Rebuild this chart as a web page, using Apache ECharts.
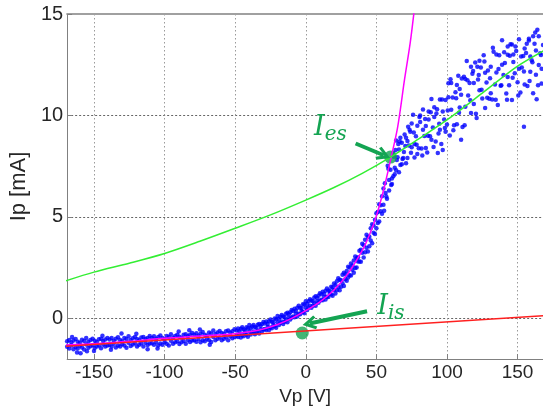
<!DOCTYPE html>
<html>
<head>
<meta charset="utf-8">
<script src="https://cdn.jsdelivr.net/npm/echarts@6/dist/echarts.min.js"></script>
<style>
  html, body { margin: 0; padding: 0; background: #fff; }
  #chart { width: 543px; height: 412px; }
</style>
</head>
<body>
<div id="chart"></div>
<script>
// probe data, ion side (Vp < -50)
var ionBranch = [
  [-169,-1.13],[-169,-1.40],[-167.5,-1.06],[-167.5,-1.48],[-166,-1.19],[-166,-1.34],[-164.5,-1.09],[-164.5,-1.52],
  [-163,-1.01],[-163,-1.41],[-161.5,-1.15],[-161.5,-1.48],[-160,-1.20],[-160,-1.35],[-158.5,-1.05],[-158.5,-1.43],
  [-157,-1.11],[-157,-1.53],[-155.5,-0.97],[-155.5,-1.29],[-154,-1.15],[-154,-1.45],[-152.5,-1.06],[-152.5,-1.37],
  [-151,-1.00],[-151,-1.32],[-149.5,-1.10],[-149.5,-1.46],[-148,-1.16],[-148,-1.39],[-146.5,-1.03],[-146.5,-1.33],
  [-145,-1.00],[-145,-1.47],[-143.5,-1.11],[-143.5,-1.29],[-142,-1.04],[-142,-1.39],[-140.5,-0.96],[-140.5,-1.33],
  [-139,-1.04],[-139,-1.31],[-137.5,-0.97],[-137.5,-1.39],[-136,-1.10],[-136,-1.25],[-134.5,-1.00],[-134.5,-1.43],
  [-133,-0.93],[-133,-1.33],[-131.5,-1.06],[-131.5,-1.39],[-130,-1.12],[-130,-1.27],[-128.5,-0.96],[-128.5,-1.34],
  [-127,-1.02],[-127,-1.44],[-125.5,-0.88],[-125.5,-1.20],[-124,-1.06],[-124,-1.36],[-122.5,-0.98],[-122.5,-1.29],
  [-121,-0.91],[-121,-1.23],[-119.5,-1.02],[-119.5,-1.38],[-118,-1.07],[-118,-1.30],[-116.5,-0.94],[-116.5,-1.24],
  [-115,-0.91],[-115,-1.38],[-113.5,-1.02],[-113.5,-1.20],[-112,-0.96],[-112,-1.31],[-110.5,-0.87],[-110.5,-1.24],
  [-109,-0.96],[-109,-1.23],[-107.5,-0.88],[-107.5,-1.30],[-106,-1.02],[-106,-1.17],[-104.5,-0.91],[-104.5,-1.34],
  [-103,-0.84],[-103,-1.24],[-101.5,-0.97],[-101.5,-1.30],[-100,-1.03],[-100,-1.18],
  [-98.5,-0.87],[-98.5,-1.25],[-97,-0.92],[-97,-1.34],[-95.5,-0.78],[-95.5,-1.10],[-94,-0.95],[-94,-1.25],
  [-92.5,-0.87],[-92.5,-1.18],[-91,-0.80],[-91,-1.12],[-89.5,-0.90],[-89.5,-1.26],[-88,-0.95],[-88,-1.18],
  [-86.5,-0.81],[-86.5,-1.11],[-85,-0.78],[-85,-1.25],[-83.5,-0.88],[-83.5,-1.06],[-82,-0.81],[-82,-1.16],
  [-80.5,-0.72],[-80.5,-1.09],[-79,-0.80],[-79,-1.07],[-77.5,-0.73],[-77.5,-1.15],[-76,-0.86],[-76,-1.01],
  [-74.5,-0.75],[-74.5,-1.18],[-73,-0.67],[-73,-1.07],[-71.5,-0.80],[-71.5,-1.13],[-70,-0.85],[-70,-1.00],
  [-68.5,-0.69],[-68.5,-1.07],[-67,-0.74],[-67,-1.16],[-65.5,-0.60],[-65.5,-0.92],[-64,-0.77],[-64,-1.07],
  [-62.5,-0.69],[-62.5,-1.00],[-61,-0.62],[-61,-0.94],[-59.5,-0.72],[-59.5,-1.08],[-58,-0.77],[-58,-1.00],
  [-56.5,-0.63],[-56.5,-0.93],[-55,-0.60],[-55,-1.07],[-53.5,-0.70],[-53.5,-0.88],[-52,-0.63],[-52,-0.98],
  [-50.5,-0.54],[-50.5,-0.91],
  [-162,-1.68],[-159.5,-1.72],[-155,-1.62],[-150,-1.60],[-144,-0.85],[-130.5,-0.74],[-120,-0.76],[-112,-1.52],
  [-90,-0.64],[-75,-0.55],[-68,-1.30],[-165.5,-0.92],[-138,-1.55],[-105,-1.48],[-82.5,-0.58]
];

// exponential part (-50 .. 55 V)
var rampBranch = [
  [-49,-0.59],[-49,-0.86],[-48,-0.50],[-48,-0.92],[-47,-0.63],[-47,-0.78],[-46,-0.51],[-46,-0.94],
  [-45,-0.43],[-45,-0.83],[-44,-0.55],[-44,-0.88],[-43,-0.60],[-43,-0.75],[-42,-0.43],[-42,-0.81],
  [-41,-0.48],[-41,-0.90],[-40,-0.33],[-40,-0.65],[-39,-0.49],[-39,-0.79],[-38,-0.40],[-38,-0.71],
  [-37,-0.32],[-37,-0.64],[-36,-0.42],[-36,-0.78],[-35,-0.46],[-35,-0.69],[-34,-0.31],[-34,-0.61],
  [-33,-0.27],[-33,-0.74],[-32,-0.36],[-32,-0.54],[-31,-0.28],[-31,-0.63],[-30,-0.18],[-30,-0.55],
  [-29,-0.25],[-29,-0.52],[-28,-0.15],[-28,-0.57],[-27,-0.27],[-27,-0.42],[-26,-0.14],[-26,-0.57],
  [-25,-0.05],[-25,-0.45],[-24,-0.16],[-24,-0.49],[-23,-0.19],[-23,-0.34],[-22,-0.01],[-22,-0.39],
  [-21,-0.04],[-21,-0.46],[-20,0.12],[-20,-0.20],[-19,-0.03],[-19,-0.33],[-18,0.08],[-18,-0.23],
  [-17,0.17],[-17,-0.15],[-16,0.09],[-16,-0.27],[-15,0.06],[-15,-0.17],[-14,0.23],[-14,-0.07],
  [-13,0.28],[-13,-0.19],[-12,0.21],[-12,0.03],[-11,0.30],[-11,-0.05],[-10,0.42],[-10,0.05],
  [-9,0.37],[-9,0.10],[-8,0.48],[-8,0.06],[-7,0.38],[-7,0.23],[-6,0.52],[-6,0.09],
  [-5,0.63],[-5,0.23],[-4,0.53],[-4,0.20],[-3,0.51],[-3,0.36],[-2,0.70],[-2,0.32],
  [-1,0.68],[-1,0.26],[0,0.85],[0,0.53],[1,0.71],[1,0.41],[2,0.84],[2,0.53],
  [3,0.94],[3,0.62],[4,0.88],[4,0.52],[5,0.86],[5,0.63],[6,1.03],[6,0.73],
  [7,1.09],[7,0.62],[8,1.02],[8,0.84],[9,1.12],[9,0.77],[10,1.24],[10,0.87],
  [11,1.19],[11,0.92],[12,1.31],[12,0.89],[13,1.21],[13,1.06],[14,1.36],[14,0.93],
  [15,1.47],[15,1.07],[16,1.38],[16,1.05],[17,1.36],[17,1.21],[18,1.56],[18,1.18],
  [19,1.54],[19,1.12],[20,1.72],[20,1.40],[21,1.65],[21,1.23],[22,1.83],[22,1.39],
  [23,1.98],[23,1.53],[24,1.90],[24,1.39],[25,1.88],[25,1.56],[26,2.15],[26,1.73],
  [27,2.25],[27,1.60],[28,2.18],[28,1.93],[29,2.34],[29,1.85],[30,2.54],[30,2.02],
  [31,2.51],[31,2.13],[32,2.71],[32,2.12],[33,2.61],[33,2.40],[34,2.85],[34,2.25],
  [35,3.05],[35,2.49],[36,2.97],[36,2.51],[37,3.01],[37,2.80],[38,3.34],[38,2.81],
  [39,3.38],[39,2.79],[40,3.68],[40,3.23],[41,3.60],[41,3.00],[42,3.88],[42,3.26],
  [43,4.12],[43,3.48],[44,4.02],[44,3.30],[45,4.02],[45,3.56],[46,4.44],[46,3.84],
  [47,4.64],[47,3.70],[48,4.58],[48,4.22],[49,4.86],[49,4.16],[50,5.18],[50,4.44],
  [51,5.24],[51,4.70],[52,5.62],[52,4.78],[53,5.58],[53,5.28],[54,6.02],[54,5.16],
  [55,6.40],[55,5.60],[55.5,5.30],[57.5,5.90],[59,6.30],[61,6.90],[63,7.10]
];

// electron saturation side (55 .. 168 V)
var electronBranch = [
  [56,6.66],[57,6.01],[58,7.52],[59,6.82],[60,7.32],[61,6.62],[62,8.14],[63,7.43],[64,8.77],[65,7.94],
  [66,8.32],[67,7.56],[68,8.66],[69,7.90],[70,9.06],[71,7.64],[72,8.74],[73,8.52],[74,9.20],[75,8.44],
  [76,10.03],[77,7.93],[78,8.98],[79,9.49],[80,8.38],[81,9.68],[82,8.37],[83,10.30],[84,8.99],[85,9.48],
  [86,8.17],[87,10.19],[88,8.97],[89,10.81],[90,9.41],[91,9.92],[92,8.72],[93,10.31],[94,9.11],[95,10.79],
  [96,8.60],[97,10.19],[98,9.80],[99,10.76],[100,9.56],[101,11.59],[102,9.01],[103,10.28],[104,10.89],[105,9.52],
  [106,11.14],[107,9.57],[108,11.96],[109,10.39],[110,11.02],[111,9.43],[112,11.91],[113,10.43],[114,12.69],[115,10.99],
  [116,11.60],[117,10.12],[118,12.05],[119,10.57],[120,12.61],[121,9.88],[122,11.77],[123,11.24],[124,12.36],[125,10.84],
  [126,12.97],[127,10.37],[128,11.62],[129,12.21],[130,10.82],[131,12.40],[132,10.79],[133,13.14],[134,11.53],[135,12.12],
  [136,10.51],[137,12.97],[138,11.47],[139,13.71],[140,11.99],[141,12.58],[142,11.08],[143,12.99],[144,11.49],[145,13.51],
  [146,10.76],[147,12.63],[148,12.08],[149,13.18],[150,11.64],[151,13.75],[152,11.13],[153,12.36],[154,12.93],[155,11.52],
  [156,13.08],[157,11.45],[158,13.78],[159,12.15],[160,12.72],[161,11.09],[162,13.53],[163,12.01],[164,14.23],[165,12.49],
  [166,13.07],[167,11.57],[168,13.47],
  [56.5,6.18],[58.5,7.38],[60.5,6.58],[62.5,7.97],[64.5,7.81],[66.5,8.72],[68.5,7.86],[70.5,8.50],[72.5,9.44],[74.5,8.16],
  [76.5,9.16],[78.5,8.56],[80.5,9.93],[82.5,8.03],[84.5,9.82],[86.5,9.00],[88.5,10.16],[90.5,8.45],[92.5,10.10],[94.5,9.59],
  [96.5,10.79],[98.5,9.38],[100.5,10.24],[102.5,11.79],[104.5,9.27],[106.5,10.85],[108.5,10.13],[110.5,11.82],[112.5,9.52],[114.5,11.73],
  [116.5,10.75],[118.5,12.19],[120.5,10.09],[122.5,12.00],[124.5,11.27],[126.5,12.66],[128.5,10.87],[130.5,11.83],[132.5,13.34],[134.5,10.78],
  [136.5,12.29],[138.5,11.49],[140.5,13.11],[142.5,10.77],[144.5,12.94],[146.5,11.86],[148.5,13.40],[150.5,10.99],[152.5,12.90],[154.5,12.17],
  [156.5,13.53],[158.5,11.70],[160.5,12.62],[162.5,14.09],[164.5,11.49],[166.5,12.98],
  [154.5,9.45],[163.5,10.80],[110,8.80],[93.5,8.15],[143,13.40],[146,13.50],[158,13.70],[165,13.90],[121.5,12.40],[97,8.30],
  [62,7.00],[63.5,8.30],[64,7.30],[65.5,8.60],[66,7.20],[67,8.90],[68,7.60],[69.5,8.20],[71,8.90],[72,7.90],
  [73.5,9.30],[75,9.60],[77,8.60],[79,8.10],[81,10.00],[83,9.30],[85,8.40],[87,9.80],[89,8.80],[91,10.40],
  [95,9.30],[99,9.20],[101,10.90],[103,11.60],[107,11.50],[109,11.30],[113,11.80],[117,12.40],[119,11.60],[123,12.70],
  [127,12.10],[131,11.10],[135,13.00],[139,12.50],[143,11.90],[147,13.00],[151,12.30],[155,13.30],[159,12.90],[161,13.90],
  [163,13.20],[167,12.30]
];

// fitted curves
var expFitV = [-170, -150, -125, -100, -75, -50, -40, -30, -20, -10, 0, 10, 20, 30, 40, 45, 50, 55, 60, 65, 70, 74, 77];
var expFitI = [-1.31, -1.25, -1.13, -0.98, -0.87, -0.75, -0.66, -0.52, -0.30, 0.0, 0.38, 0.82, 1.40, 2.22, 3.35, 4.10, 5.05, 6.30, 7.80, 9.40, 11.8, 13.6, 15.3];
var satFitV = [-170, -150, -125, -100, -75, -50, -25, 0, 20, 40, 60, 80, 100, 125, 150, 170];
var satFitI = [1.85, 2.28, 2.72, 3.2, 3.8, 4.44, 5.1, 5.83, 6.45, 7.15, 7.95, 8.85, 9.78, 11.1, 12.43, 13.25];
var ionFitV = [-170, 170];
var ionFitI = [-1.37, 0.14];

var iesPoint = [60, 7.95];
var iisPoint = [-2.5, -0.72];

var xTicks = [-150, -100, -50, 0, 50, 100, 150];
var yTicks = [0, 5, 10, 15];

function zip(a, b) {
  return a.map(function (v, i) { return [v, b[i]] });
}

var font = "'Liberation Sans', Arial, sans-serif";
var green = "#14a452";
var chevron = "path://M10,0L20,14L16.5,16L10,7L3.5,16L0,14Z";

var chart = echarts.init(document.getElementById("chart"));
chart.setOption({
  animation: false,
  grid: { left: 62, right: 0, top: 14, bottom: 53 },
  xAxis: [
    {
      type: "value",
      min: -169,
      max: 168,
      position: "bottom",
      name: "Vp [V]",
      nameLocation: "middle",
      nameGap: 27,
      nameTextStyle: { fontSize: 19, color: "#262626", fontFamily: font },
      axisLine: { show: true, onZero: false, lineStyle: { color: "#808080", width: 1 } },
      axisTick: { show: true, inside: true, length: 5, customValues: xTicks, lineStyle: { color: "#808080" } },
      axisLabel: { customValues: xTicks, fontSize: 19, color: "#262626", fontFamily: font, margin: 4 },
      splitLine: { show: true, lineStyle: { color: "#9a9a9a", type: [1.5, 2.5], width: 1 } },
    },
    {
      type: "value",
      min: -169,
      max: 168,
      position: "top",
      axisLine: { show: true, onZero: false, lineStyle: { color: "#a0a0a0", width: 2 } },
      axisTick: { show: false },
      axisLabel: { show: false },
      splitLine: { show: false },
    },
  ],
  yAxis: {
    type: "value",
    min: -2,
    max: 15,
    name: "Ip [mA]",
    nameLocation: "middle",
    nameGap: 26,
    nameTextStyle: { fontSize: 22, color: "#262626", fontFamily: font },
    axisLine: { show: true, onZero: false, lineStyle: { color: "#808080", width: 1 } },
    axisTick: { show: true, inside: true, length: 5, customValues: yTicks, lineStyle: { color: "#808080" } },
    axisLabel: { customValues: yTicks, fontSize: 20, color: "#262626", fontFamily: font, margin: 4 },
    splitLine: { show: true, lineStyle: { color: "#666", type: [2, 2], width: 1 } },
  },
  series: [
    {
      type: "scatter",
      data: ionBranch.concat(rampBranch, electronBranch),
      symbolSize: 4.5,
      itemStyle: { color: "#0000ff" },
      silent: true,
    },
    {
      type: "line",
      data: zip(expFitV, expFitI),
      smooth: 0.3,
      showSymbol: false,
      lineStyle: { color: "#ff00ff", width: 1.5 },
      silent: true,
    },
    {
      type: "line",
      data: zip(satFitV, satFitI),
      smooth: 0.3,
      showSymbol: false,
      lineStyle: { color: "#33ee33", width: 1.5 },
      silent: true,
    },
    {
      type: "line",
      data: zip(ionFitV, ionFitI),
      showSymbol: false,
      lineStyle: { color: "#ff2020", width: 1.5 },
      silent: true,
    },
    {
      type: "scatter",
      data: [iesPoint, iisPoint],
      symbolSize: 13,
      itemStyle: { color: green },
      silent: true,
      markLine: {
        silent: true,
        symbol: ["none", chevron],
        symbolSize: 14,
        label: { show: false },
        lineStyle: { color: green, width: 4, type: "solid" },
        data: [
          [{ coord: [35.3, 8.62] }, { coord: [55.2, 8.04] }],
          [{ coord: [43.4, 0.35] }, { coord: [2.6, -0.25] }],
        ],
      },
      markPoint: {
        silent: true,
        symbol: "circle",
        symbolSize: 1,
        itemStyle: { color: "transparent" },
        label: {
          show: true,
          position: "inside",
          rich: {
            i: { fontSize: 27, fontStyle: "italic", fontFamily: "'DejaVu Serif', serif", color: green },
            s: { fontSize: 20, fontStyle: "italic", fontFamily: "'DejaVu Serif', serif", color: green, padding: [14, 0, 0, 0] },
          },
        },
        data: [
          { coord: [17.5, 9.39], label: { formatter: "{i|I}{s|es}" } },
          { coord: [60.3, 0.58], label: { formatter: "{i|I}{s|is}" } },
        ],
      },
    },
  ],
});
</script>
</body>
</html>
